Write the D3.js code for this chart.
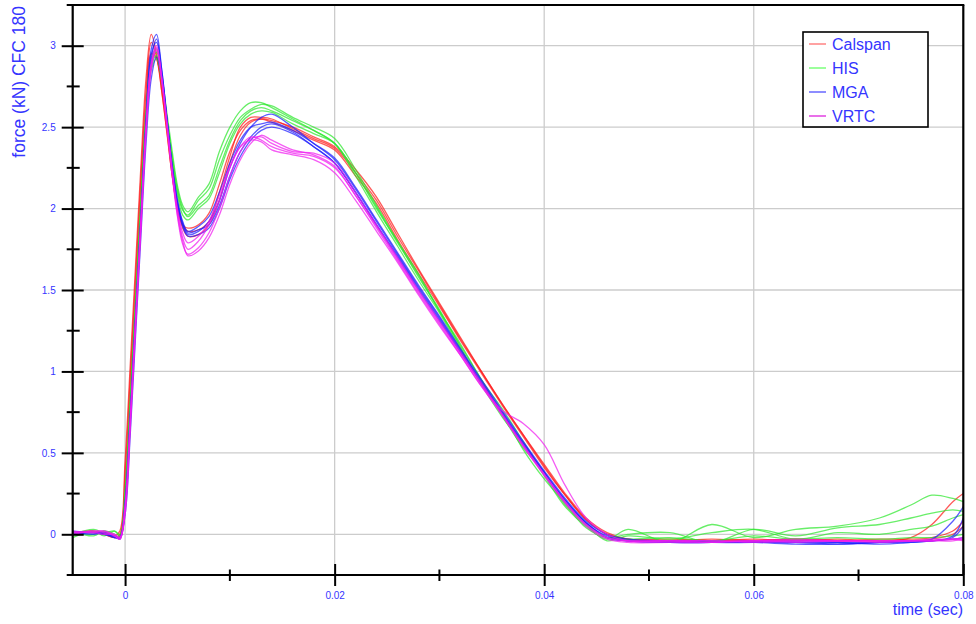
<!DOCTYPE html>
<html>
<head>
<meta charset="utf-8">
<script src="https://cdn.jsdelivr.net/npm/d3@7"></script>
<style>
  body { margin: 0; background: #fff; }
  text { font-family: Arial, "Liberation Sans", sans-serif; }
</style>
</head>
<body>
<script>
// sample times (sec), shared by every run
const times = [-0.005,-0.003,-0.002,-0.001,-0.0005,0,0.0005,0.001,0.0015,0.002,0.0025,0.003,0.0035,0.004,0.0045,0.005,0.0055,0.006,0.007,
  0.008,0.009,0.010,0.011,0.012,0.013,0.014,0.016,0.018,0.020,0.022,0.024,
  0.026,0.028,0.030,0.032,0.034,0.036,0.038,0.040,0.042,0.044,0.046,0.048,
  0.052,0.056,0.060,0.064,0.068,0.072,0.075,0.077,0.079,0.080];

// force (kN) per run
const calspan = [
  [0.01,0.02,0.01,-0.01,0.02,0.45, 1.05,1.65,2.25,2.8,3.07,2.95,2.75,2.5,2.22,2.02,1.9,1.86,1.87,
   1.92,2.1,2.32,2.5,2.56,2.56,2.55,2.49,2.43,2.37,2.22,2.05, 1.83,1.62,1.41,1.2,1.0,0.8,0.61,0.42,0.24,0.09,0.0,-0.03,
   -0.04,-0.04,-0.03,-0.04,-0.03,-0.04,-0.02,0.06,0.2,0.25],
  [0.0,0.02,0.0,-0.02,0.0,0.38, 0.98,1.58,2.18,2.72,3.02,2.93,2.72,2.46,2.2,2.0,1.9,1.88,1.9,
   1.97,2.15,2.35,2.48,2.54,2.55,2.53,2.48,2.42,2.36,2.2,2.03, 1.81,1.6,1.4,1.19,0.99,0.79,0.6,0.41,0.24,0.09,0.0,-0.03,
   -0.04,-0.03,-0.04,-0.03,-0.04,-0.03,-0.03,-0.02,0.02,0.08],
  [0.01,0.01,0.0,-0.02,-0.01,0.3, 0.9,1.5,2.1,2.65,2.95,2.92,2.72,2.47,2.2,2.0,1.88,1.83,1.84,
   1.9,2.05,2.28,2.45,2.53,2.55,2.54,2.5,2.44,2.38,2.24,2.07, 1.85,1.63,1.42,1.21,1.0,0.8,0.61,0.43,0.25,0.1,0.01,-0.03,
   -0.03,-0.04,-0.04,-0.03,-0.04,-0.04,-0.04,-0.03,0.0,0.05]
];
const his = [
  [0.0,0.03,0.01,0.02,-0.01,0.25, 0.8,1.4,2.0,2.55,2.9,2.96,2.8,2.55,2.3,2.1,1.99,1.96,2.05,
   2.12,2.3,2.45,2.56,2.61,2.64,2.63,2.56,2.5,2.43,2.24,2.02, 1.8,1.58,1.38,1.15,0.92,0.72,0.55,0.36,0.17,0.05,-0.03,0.03,
   -0.05,0.06,-0.02,0.03,0.05,0.1,0.18,0.24,0.22,0.2],
  [0.02,-0.01,0.02,0.0,-0.02,0.2, 0.75,1.35,1.95,2.5,2.85,2.92,2.78,2.55,2.32,2.12,2.0,1.95,2.02,
   2.08,2.25,2.42,2.54,2.6,2.62,2.6,2.54,2.48,2.4,2.2,1.98, 1.77,1.56,1.36,1.14,0.93,0.75,0.52,0.34,0.19,0.04,-0.02,0.0,
   0.01,-0.05,0.03,-0.01,0.04,0.06,0.1,0.13,0.15,0.14],
  [-0.02,0.02,-0.01,0.02,0.0,0.28, 0.85,1.45,2.05,2.6,2.92,2.98,2.82,2.58,2.35,2.14,2.02,1.98,2.07,
   2.15,2.35,2.5,2.6,2.65,2.65,2.62,2.55,2.48,2.4,2.22,2.0, 1.8,1.6,1.37,1.16,0.95,0.73,0.53,0.38,0.18,0.06,-0.04,-0.01,
   -0.03,0.01,0.03,-0.03,0.01,0.0,0.03,0.05,0.1,0.12],
  [0.01,0.0,0.02,-0.01,-0.02,0.22, 0.78,1.38,1.98,2.52,2.87,2.94,2.79,2.54,2.3,2.08,1.96,1.93,2.0,
   2.06,2.22,2.4,2.52,2.58,2.6,2.59,2.52,2.46,2.4,2.22,2.01, 1.79,1.59,1.37,1.17,0.95,0.77,0.57,0.37,0.2,0.06,-0.02,-0.03,
   -0.02,-0.04,-0.01,-0.03,-0.02,-0.03,-0.02,-0.02,-0.01,0.0]
];
const mga = [
  [0.01,0.01,0.0,-0.02,-0.02,0.2, 0.75,1.35,1.95,2.55,2.98,3.07,2.85,2.55,2.25,2.03,1.9,1.84,1.86,
   1.92,2.05,2.25,2.4,2.5,2.56,2.58,2.5,2.4,2.3,2.12,1.92, 1.72,1.52,1.33,1.13,0.94,0.75,0.56,0.38,0.21,0.07,-0.01,-0.04,
   -0.05,-0.05,-0.05,-0.06,-0.06,-0.05,-0.04,-0.03,0.08,0.17],
  [0.0,0.01,0.01,-0.01,-0.03,0.15, 0.7,1.3,1.9,2.5,2.92,3.04,2.85,2.55,2.26,2.04,1.91,1.85,1.87,
   1.9,2.02,2.2,2.35,2.44,2.5,2.52,2.47,2.38,2.28,2.1,1.9, 1.71,1.51,1.32,1.12,0.93,0.74,0.55,0.37,0.2,0.07,-0.02,-0.04,
   -0.04,-0.05,-0.05,-0.05,-0.06,-0.05,-0.05,-0.04,-0.02,0.05],
  [0.01,0.0,0.01,-0.02,-0.02,0.12, 0.62,1.22,1.82,2.4,2.8,2.93,2.8,2.52,2.24,2.02,1.89,1.83,1.84,
   1.88,2.0,2.18,2.32,2.42,2.48,2.5,2.46,2.38,2.28,2.1,1.9, 1.7,1.5,1.31,1.12,0.93,0.74,0.56,0.38,0.21,0.07,-0.02,-0.04,
   -0.05,-0.05,-0.04,-0.05,-0.05,-0.05,-0.04,-0.04,-0.01,0.1],
  [0.02,0.01,0.0,-0.01,-0.02,0.18, 0.72,1.32,1.92,2.52,2.95,3.02,2.83,2.54,2.26,2.05,1.92,1.86,1.89,
   1.95,2.1,2.28,2.42,2.5,2.52,2.53,2.48,2.4,2.31,2.13,1.93, 1.73,1.53,1.34,1.14,0.95,0.76,0.57,0.39,0.22,0.08,0.0,-0.03,
   -0.04,-0.04,-0.05,-0.04,-0.05,-0.06,-0.05,-0.04,-0.03,-0.02]
];
const vrtc = [
  [0.01,0.02,0.01,-0.01,-0.03,0.15, 0.7,1.3,1.9,2.5,2.9,3.0,2.8,2.5,2.2,1.95,1.78,1.72,1.76,
   1.85,2.0,2.2,2.35,2.43,2.44,2.4,2.35,2.34,2.28,2.1,1.9, 1.7,1.5,1.31,1.12,0.93,0.74,0.55,0.37,0.2,0.06,-0.02,-0.04,
   -0.04,-0.05,-0.04,-0.04,-0.04,-0.04,-0.04,-0.04,-0.03,-0.03],
  [0.02,0.01,0.02,0.0,-0.02,0.18, 0.72,1.32,1.92,2.5,2.88,2.97,2.78,2.5,2.22,1.98,1.82,1.75,1.8,
   1.9,2.05,2.25,2.38,2.44,2.42,2.38,2.34,2.32,2.25,2.08,1.88, 1.68,1.48,1.29,1.1,0.91,0.76,0.68,0.55,0.3,0.1,0.0,-0.04,
   -0.04,-0.04,-0.05,-0.04,-0.04,-0.04,-0.04,-0.03,-0.03,-0.02],
  [0.0,0.02,0.02,-0.01,-0.03,0.12, 0.65,1.25,1.85,2.45,2.85,2.98,2.8,2.52,2.22,1.96,1.8,1.71,1.74,
   1.82,1.96,2.15,2.3,2.4,2.45,2.42,2.36,2.33,2.26,2.08,1.89, 1.69,1.49,1.3,1.11,0.92,0.73,0.54,0.36,0.19,0.05,-0.03,-0.05,
   -0.05,-0.05,-0.04,-0.05,-0.04,-0.05,-0.04,-0.04,-0.04,-0.03],
  [0.01,0.01,0.0,0.0,-0.02,0.16, 0.7,1.3,1.9,2.48,2.88,2.99,2.8,2.52,2.24,2.0,1.85,1.79,1.83,
   1.92,2.08,2.26,2.38,2.42,2.41,2.36,2.33,2.3,2.22,2.05,1.86, 1.67,1.47,1.28,1.1,0.91,0.73,0.54,0.37,0.2,0.06,-0.02,-0.04,
   -0.04,-0.04,-0.04,-0.03,-0.04,-0.04,-0.04,-0.04,-0.03,-0.04]
];

const labs = ["Calspan", "HIS", "MGA", "VRTC"];
const runs = [calspan, his, mga, vrtc];
const lineCols = ["#ff1a1a", "#2ee82e", "#1f1fff", "#f01cf0"];
const keyCols = ["#ff7070", "#66ff66", "#5050ff", "#dd22dd"];
const xTicks = [0, 0.02, 0.04, 0.06, 0.08];
const xMinor = [0.01, 0.03, 0.05, 0.07];
const yTicks = [0, 0.5, 1, 1.5, 2, 2.5, 3];
const yMinor = [-0.25, 0.25, 0.75, 1.25, 1.75, 2.25, 2.75, 3.25];

const W = 976, H = 624;
const L = 72.7, R = 963.3, T = 5, B = 575;
const blue = "#3535ff";

const svg = d3.select("body").append("svg").attr("width", W).attr("height", H);

const x = d3.scaleLinear().domain([-0.005, 0.08]).range([L, R]);
const y = d3.scaleLinear().domain([-0.25, 3.25]).range([B, T]);

// grid
svg.append("g").selectAll("line").data(xTicks.slice(0, 4)).join("line")
  .attr("x1", d => x(d)).attr("x2", d => x(d)).attr("y1", T).attr("y2", B)
  .attr("stroke", "#cccccc").attr("stroke-width", 1.3);
svg.append("g").selectAll("line").data(yTicks).join("line")
  .attr("x1", L).attr("x2", R).attr("y1", d => y(d)).attr("y2", d => y(d))
  .attr("stroke", "#cccccc").attr("stroke-width", 1.3);

// curves
svg.append("clipPath").attr("id", "clip").append("rect")
  .attr("x", L).attr("y", T).attr("width", R - L).attr("height", B - T);
const line = d3.line().x((d, i) => x(times[i])).y(d => y(d)).curve(d3.curveCatmullRom.alpha(0.5));
const plot = svg.append("g").attr("clip-path", "url(#clip)");
runs.forEach((grp, gi) => {
  plot.append("g").selectAll("path").data(grp).join("path")
    .attr("d", line).attr("fill", "none")
    .attr("stroke", lineCols[gi]).attr("stroke-width", 1.3).attr("stroke-opacity", 0.72);
});

// axes
const xAxis = d3.axisBottom(x).tickValues(xTicks).tickSizeInner(11).tickSizeOuter(0)
  .tickFormat(d => d === 0 ? "0" : d3.format(".2f")(d)).tickPadding(6);
const gx = svg.append("g").attr("transform", `translate(0,${B})`).call(xAxis);
gx.selectAll(".tick line").attr("y1", -11).attr("stroke-width", 2);
gx.select(".domain").remove();
gx.selectAll("text").attr("fill", blue).attr("font-size", 10).attr("font-family", "Arial, Liberation Sans");
svg.append("g").selectAll("line").data(xMinor).join("line")
  .attr("x1", d => x(d)).attr("x2", d => x(d)).attr("y1", B - 5.5).attr("y2", B + 6)
  .attr("stroke", "#000").attr("stroke-width", 2);

const yAxis = d3.axisLeft(y).tickValues(yTicks).tickSizeInner(11).tickSizeOuter(0)
  .tickFormat(d3.format("")).tickPadding(6);
const gy = svg.append("g").attr("transform", `translate(${L},0)`).call(yAxis);
gy.selectAll(".tick line").attr("x1", 11).attr("stroke-width", 2);
gy.select(".domain").remove();
gy.selectAll("text").attr("fill", blue).attr("font-size", 10).attr("font-family", "Arial, Liberation Sans");
svg.append("g").selectAll("line").data(yMinor).join("line")
  .attr("x1", L - 6).attr("x2", L + 7).attr("y1", d => y(d)).attr("y2", d => y(d))
  .attr("stroke", "#000").attr("stroke-width", 2);

// frame
svg.append("line").attr("x1", L).attr("x2", L).attr("y1", T).attr("y2", B).attr("stroke", "#000").attr("stroke-width", 2.2);
svg.append("line").attr("x1", 67).attr("x2", R).attr("y1", B).attr("y2", B).attr("stroke", "#000").attr("stroke-width", 2.2);
svg.append("line").attr("x1", 67).attr("x2", R + 1).attr("y1", T).attr("y2", T).attr("stroke", "#000").attr("stroke-width", 2.2);
svg.append("line").attr("x1", R).attr("x2", R).attr("y1", T).attr("y2", B).attr("stroke", "#000").attr("stroke-width", 2.2);

// titles
svg.append("text").attr("transform", "translate(25,6) rotate(-90)")
  .attr("text-anchor", "end").attr("fill", blue).attr("font-size", 17.5).text("force (kN) CFC 180");
svg.append("text").attr("x", 963).attr("y", 615).attr("text-anchor", "end")
  .attr("fill", blue).attr("font-size", 16).text("time (sec)");

// legend
const lg = svg.append("g").attr("transform", "translate(803,32)");
lg.append("rect").attr("width", 125).attr("height", 95).attr("fill", "#fff")
  .attr("stroke", "#000").attr("stroke-width", 1.6);
labs.forEach((s, i) => {
  const yy = 12 + i * 24;
  lg.append("line").attr("x1", 6).attr("x2", 23).attr("y1", yy).attr("y2", yy)
    .attr("stroke", keyCols[i]).attr("stroke-width", 1.3);
  lg.append("text").attr("x", 29).attr("y", yy + 5.5).attr("fill", blue)
    .attr("font-size", 16).text(s);
});
</script>
</body>
</html>
